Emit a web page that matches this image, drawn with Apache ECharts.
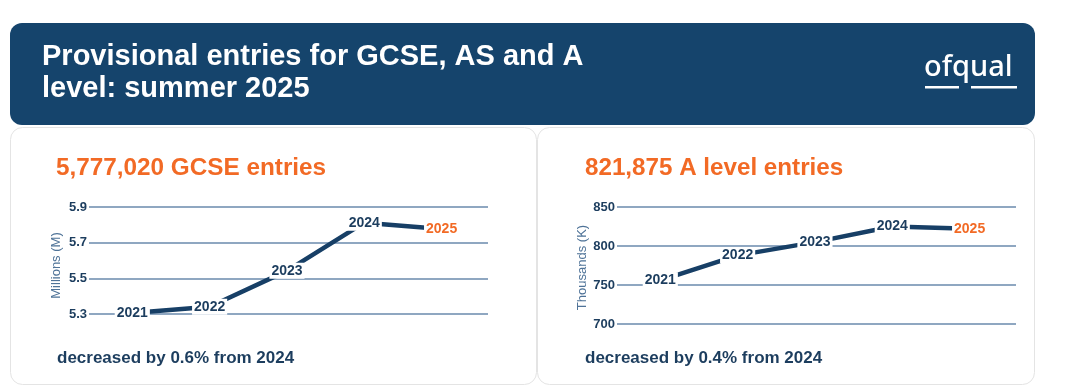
<!DOCTYPE html>
<html>
<head>
<meta charset="utf-8">
<script src="https://cdn.jsdelivr.net/npm/echarts@6/dist/echarts.min.js"></script>
<style>
  html, body { margin: 0; padding: 0; background: #ffffff; }
  #chart { width: 1080px; height: 391px; }
</style>
</head>
<body>
<div id="chart"></div>
<script>
// ---- data ----
const years = [2021, 2022, 2023, 2024, 2025];
const gcseEntriesMillions = [5.305, 5.341, 5.542, 5.812, 5.777];
const aLevelEntriesThousands = [756, 788, 805, 825, 822];
const gcseTicks = [5.3, 5.5, 5.7, 5.9];
const aLevelTicks = [700, 750, 800, 850];

const headerTitle = 'Provisional entries for GCSE, AS and A\nlevel: summer 2025';
const gcseHeadline = '5,777,020 GCSE entries';
const aLevelHeadline = '821,875 A level entries';
const gcseChange = 'decreased by 0.6% from 2024';
const aLevelChange = 'decreased by 0.4% from 2024';
const gcseAxisName = 'Millions (M)';
const aLevelAxisName = 'Thousands (K)';

// ---- styles ----
const NAVY = '#15446c';
const LINE = '#173f66';
const TEXT = '#1c3d5e';
const ORANGE = '#f26a25';
const GRIDLINE = '#6a8aad';
const AXISNAME = '#4f7398';
const FONT = '"Liberation Sans", Arial, sans-serif';

function buildSeries(values, idx) {
  return {
    type: 'line',
    xAxisIndex: idx,
    yAxisIndex: idx,
    data: years.map((y, i) => {
      const d = { value: [y, values[i]] };
      if (i === years.length - 1) d.label = { color: ORANGE };
      return d;
    }),
    lineStyle: { color: LINE, width: 4.5 },
    symbol: 'circle',
    symbolSize: 2,
    itemStyle: { color: LINE },
    label: {
      show: true,
      position: 'inside',
      formatter: p => String(p.value[0]),
      color: TEXT,
      fontWeight: 'bold',
      fontSize: 14,
      fontFamily: FONT,
      backgroundColor: '#ffffff',
      padding: [1, 2]
    },
    z: 3
  };
}

function buildY(ticks, idx, name, decimals, namePad) {
  const interval = ticks[1] - ticks[0];
  return {
    type: 'value',
    gridIndex: idx,
    min: ticks[0],
    max: ticks[ticks.length - 1],
    interval: interval,
    name: name,
    nameLocation: 'middle',
    nameGap: 26,
    nameTextStyle: { color: AXISNAME, fontSize: 13, fontFamily: FONT, padding: namePad },
    axisLine: { show: false },
    axisTick: { show: false },
    axisLabel: {
      color: TEXT, fontWeight: 'bold', fontSize: 13, fontFamily: FONT, margin: 2,
      formatter: v => Number(v).toFixed(decimals)
    },
    splitLine: { lineStyle: { color: GRIDLINE, width: 1.5 } }
  };
}

function buildX(idx) {
  return {
    type: 'value',
    gridIndex: idx,
    min: 2020.44,
    max: 2025.6,
    show: false,
    splitLine: { show: false }
  };
}

const chart = echarts.init(document.getElementById('chart'), null, { renderer: 'canvas' });

chart.setOption({
  animation: false,
  backgroundColor: '#ffffff',
  grid: [
    { left: 89, top: 207, width: 399, height: 107 },
    { left: 617, top: 207, width: 399, height: 117 }
  ],
  xAxis: [buildX(0), buildX(1)],
  yAxis: [
    buildY(gcseTicks, 0, gcseAxisName, 1, [0, 10, 0, 0]),
    buildY(aLevelTicks, 1, aLevelAxisName, 0, [0, 4, 0, 0])
  ],
  series: [
    buildSeries(gcseEntriesMillions, 0),
    buildSeries(aLevelEntriesThousands, 1)
  ],
  graphic: [
    { type: 'rect', z: -10, shape: { x: 10.5, y: 127.5, width: 526, height: 257, r: 12 },
      style: { fill: '#ffffff', stroke: '#e4e4e4', lineWidth: 1 } },
    { type: 'rect', z: -10, shape: { x: 537.5, y: 127.5, width: 497, height: 257, r: 12 },
      style: { fill: '#ffffff', stroke: '#e4e4e4', lineWidth: 1 } },
    { type: 'rect', z: -5, shape: { x: 10, y: 23, width: 1025, height: 102, r: 12 },
      style: { fill: NAVY } },
    { type: 'text', z: 10, x: 42, y: 41,
      style: { text: headerTitle, fill: '#ffffff', font: 'bold 29px ' + FONT, lineHeight: 32,
               textVerticalAlign: 'top', textAlign: 'left' } },
    { type: 'text', z: 10, x: 924, y: 82,
      style: { text: 'ofqual', fill: '#ffffff', font: '500 29px "Noto Sans", "Open Sans", sans-serif',
               textVerticalAlign: 'bottom', textAlign: 'left' } },
    { type: 'rect', z: 10, shape: { x: 925, y: 86, width: 34, height: 2.5 }, style: { fill: '#ffffff' } },
    { type: 'rect', z: 10, shape: { x: 971, y: 86, width: 46, height: 2.5 }, style: { fill: '#ffffff' } },
    { type: 'text', z: 10, x: 56, y: 168,
      style: { text: gcseHeadline, fill: ORANGE, font: 'bold 24.3px ' + FONT, textVerticalAlign: 'middle' } },
    { type: 'text', z: 10, x: 585, y: 168,
      style: { text: aLevelHeadline, fill: ORANGE, font: 'bold 24.2px ' + FONT, textVerticalAlign: 'middle' } },
    { type: 'text', z: 10, x: 57, y: 358,
      style: { text: gcseChange, fill: TEXT, font: 'bold 17px ' + FONT, textVerticalAlign: 'middle' } },
    { type: 'text', z: 10, x: 585, y: 358,
      style: { text: aLevelChange, fill: TEXT, font: 'bold 17px ' + FONT, textVerticalAlign: 'middle' } }
  ]
});
</script>
</body>
</html>
